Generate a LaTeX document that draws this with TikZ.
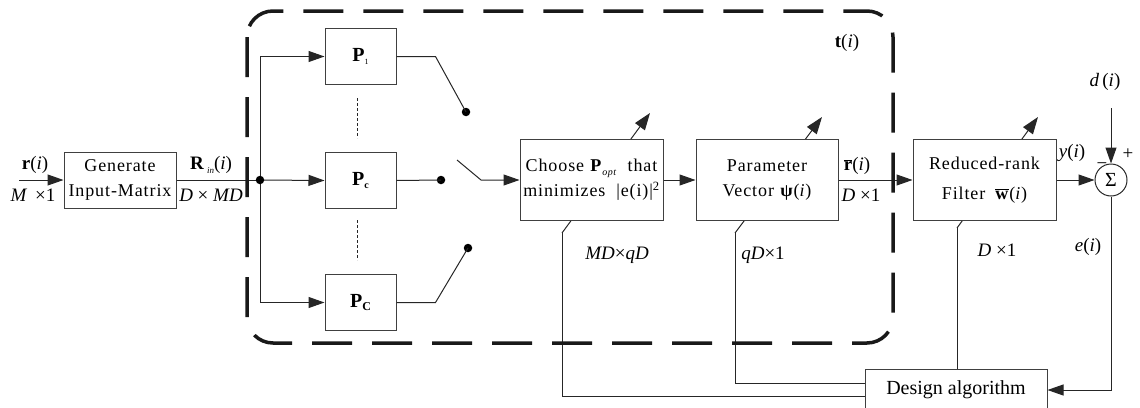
\documentclass[tikz,border=0pt]{standalone}
\usepackage{fontspec}
\setmainfont{Liberation Serif}
\newfontfamily\spc[LetterSpace=5]{Liberation Serif}
\usetikzlibrary{arrows.meta,calc}
% small lowered index
\newcommand\sbs[2][9]{\raisebox{-0.4ex}{\fontsize{#1}{#1}\selectfont #2}}
\newcommand\bbar[1]{$\overline{\hbox{\textbf{#1}}}$}
\begin{document}
\begin{tikzpicture}[x=1pt,y=-1pt,
  blk/.style={draw=black!75,line width=1pt,fill=white,inner sep=0pt,align=center,
    font=\spc\fontsize{18}{25}\selectfont},
  pbox/.style={blk,minimum width=71pt,minimum height=56pt,font=\fontsize{20}{24}\selectfont},
  lbl/.style={inner sep=0pt,font=\fontsize{19}{22}\selectfont},
  wire/.style={draw=black!85,line width=1pt},
  arr/.style={wire,-{Triangle[length=16pt,width=11pt]}},
  adj/.style={wire,-{Triangle[length=17pt,width=12pt]}},
  dot/.style={circle,fill=black,inner sep=0pt,minimum size=8.5pt},
  sep/.style={draw=black!85,line width=1pt,dash pattern=on 3pt off 2pt},
  frame/.style={draw=black!90,line width=3.5pt,dash pattern=on 40pt off 20pt,rounded corners=26pt}
]
\useasboundingbox (0,0) rectangle (1140,407);

% tuning arrows, drawn first so the filled blocks cover their middle part
\coordinate (chA) at (562,233); \coordinate (chB) at (650,113);
\coordinate (paA) at (735,233); \coordinate (paB) at (822,117);
\coordinate (flA) at (957,228); \coordinate (flB) at (1038,117);
\draw[adj] (chA) -- (chB);
\draw[adj] (paA) -- (paB);
\draw[adj] (flA) -- (flB);

% blocks
\node[blk,minimum width=112pt,minimum height=56pt] (gen) at (120,180) {Generate\\Input-Matrix};
\node[pbox] (p1) at (360.5,56.5) {\textbf{P}\sbs[8]{1}};
\node[pbox] (pc) at (360.5,180.5) {\textbf{P}\sbs[10]{\textbf{c}}};
\node[pbox] (pC) at (360.5,302.5) {\textbf{P}\sbs[12]{\textbf{C}}};
\node[blk,minimum width=143pt,minimum height=81pt] (choose) at (591.5,180)
  {Choose \textbf{P}\sbs[10]{\textit{opt}} \ that\\minimizes \ |e(i)|\textsuperscript{2}};
\node[blk,minimum width=142pt,minimum height=81pt] (param) at (767,180)
  {Parameter\\Vector \textbf{ψ}(\textit{i})};
\node[blk,minimum width=143pt,minimum height=81pt] (filter) at (984.5,180)
  {Reduced-rank\\[5pt]Filter\hspace{10pt}\bbar{w}(\textit{i})};
\node[circle,draw=black!85,line width=1pt,minimum size=32pt,inner sep=0pt,
  font=\fontsize{20}{20}\selectfont] (sum) at (1111,180) {Σ};
\node[draw=black!75,line width=1pt,fill=white,inner sep=0pt,minimum width=182pt,
  minimum height=42pt,font=\fontsize{20}{24}\selectfont] (design) at (956,390) {Design algorithm};

% input and splitter
\coordinate (rin) at (19,180);
\coordinate (j) at (260,180);
\draw[arr] (rin) -- (gen.west);
\draw[wire] (gen.east) -- (j);
\draw[arr] (j) |- (p1.west);
\draw[arr] (j) -- (pc.west);
\draw[arr] (j) |- (pC.west);
\node[dot] (jd) at (j) {};
\draw[sep] (357,98) -- (357,138);
\draw[sep] (357,220) -- (357,260);

% selector switch
\node[dot] (s1) at (466,112) {};
\node[dot] (s2) at (441,180) {};
\node[dot] (s3) at (468,248) {};
\draw[wire] (p1.east) -- ++(39,0) -- (s1.center);
\draw[wire] (pc.east) -- (s2.center);
\draw[wire] (pC.east) -- ++(39,0) -- (s3.center);
\coordinate (arm) at (457,160);
\coordinate (pivot) at (481,180);
\draw[arr] (arm) -- (pivot) -- (choose.west);

% signal path
\draw[arr] (choose.east) -- (param.west);
\draw[arr] (param.east) -- (filter.west);
\draw[arr] (filter.east) -- (sum.west);
\coordinate (dtop) at (1111,108);
\draw[arr] (dtop) -- (sum.north);
\draw[arr] (sum.south) |- (design.east);

% adaptation feedback
\draw[wire] (chA) |- ($(design.west)+(0,6)$);
\draw[wire] (paA) |- ($(design.west)+(0,-7)$);
\draw[wire] (flA) -- (flA |- design.north);

% dashed enclosure
\draw[frame] (247,11) rectangle (893,343);

% labels
\node[lbl] (lr) at (35,165) {\textbf{r}(\textit{i})};
\node[lbl] (lm) at (33,195) {\textit{M} \,×1};
\node[lbl] (lR) at (211,165) {\textbf{R}\,\sbs{\textit{in}}(\textit{i})};
\node[lbl] (lD) at (211,195) {\textit{D} × \textit{MD}};
\node[lbl] (lt) at (847,43) {\textbf{t}(\textit{i})};
\node[lbl] (lrb) at (857,166) {\bbar{r}(\textit{i})};
\node[lbl] (lD1) at (861,195) {\textit{D} ×1};
\node[lbl] (ly) at (1072,153) {\textit{y}(\textit{i})};
\node[lbl] (lminus) at (1102,166) {−};
\node[lbl] (lplus) at (1128,154) {+};
\node[lbl] (ld) at (1105,82) {\textit{d}\,(\textit{i})};
\node[lbl] (le) at (1088,247) {\textit{e}(\textit{i})};
\node[lbl] (lmd) at (617,255) {\textit{MD}×\textit{qD}};
\node[lbl] (lqd) at (763,255) {\textit{qD}×1};
\node[lbl] (ld1) at (997,250) {\textit{D} ×1};
\end{tikzpicture}
\end{document}
